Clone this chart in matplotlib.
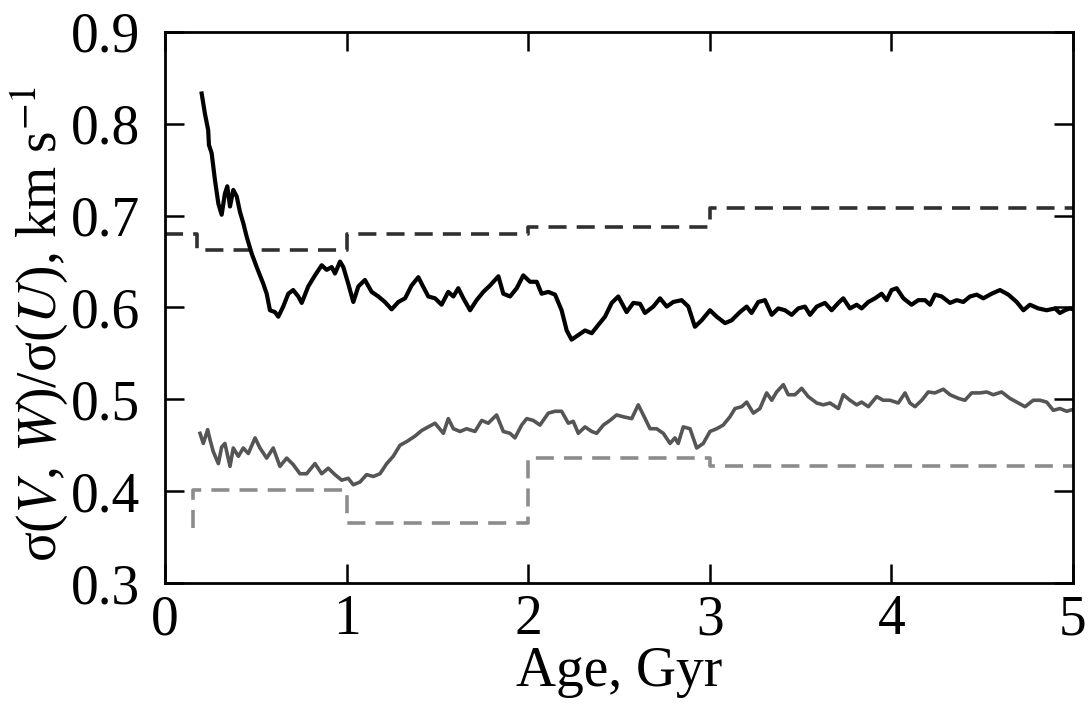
import matplotlib
matplotlib.use("Agg")
import matplotlib.pyplot as plt

# ---- data ----
# sigma(V)/sigma(U) running curve (black solid)
age_v = [0.202, 0.220, 0.238, 0.242, 0.257, 0.275, 0.294, 0.312, 0.330, 0.343, 0.358, 0.376,
         0.395, 0.413, 0.431, 0.450, 0.477, 0.505, 0.541, 0.560, 0.578, 0.606, 0.624, 0.651,
         0.679, 0.706, 0.734, 0.753, 0.789, 0.826, 0.863, 0.890, 0.918, 0.936, 0.964, 0.982,
         1.009, 1.037, 1.065, 1.101, 1.138, 1.175, 1.211, 1.248, 1.285, 1.322, 1.358, 1.395,
         1.413, 1.450, 1.487, 1.523, 1.560, 1.588, 1.615, 1.643, 1.680, 1.716, 1.753, 1.790,
         1.836, 1.863, 1.900, 1.937, 1.973, 2.010, 2.047, 2.074, 2.111, 2.148, 2.184, 2.212,
         2.239, 2.276, 2.313, 2.350, 2.386, 2.423, 2.460, 2.496, 2.542, 2.579, 2.616, 2.643,
         2.689, 2.726, 2.763, 2.799, 2.845, 2.882, 2.918, 2.955, 3.001, 3.038, 3.084, 3.120,
         3.166, 3.203, 3.230, 3.267, 3.304, 3.341, 3.377, 3.414, 3.451, 3.487, 3.524, 3.552,
         3.589, 3.634, 3.671, 3.708, 3.735, 3.772, 3.809, 3.836, 3.873, 3.910, 3.946, 3.974,
         4.001, 4.029, 4.066, 4.111, 4.148, 4.185, 4.213, 4.240, 4.277, 4.323, 4.360, 4.396,
         4.433, 4.470, 4.506, 4.552, 4.598, 4.644, 4.690, 4.727, 4.763, 4.809, 4.855, 4.901,
         4.928, 4.956, 4.983, 5.000]
ratio_v = [0.833, 0.811, 0.793, 0.777, 0.768, 0.739, 0.713, 0.701, 0.724, 0.732, 0.710, 0.728,
           0.721, 0.704, 0.692, 0.677, 0.659, 0.644, 0.626, 0.615, 0.597, 0.595, 0.590, 0.601,
           0.615, 0.619, 0.612, 0.605, 0.623, 0.635, 0.646, 0.641, 0.644, 0.637, 0.650, 0.644,
           0.626, 0.606, 0.623, 0.630, 0.617, 0.612, 0.606, 0.598, 0.606, 0.610, 0.624, 0.633,
           0.626, 0.612, 0.610, 0.603, 0.617, 0.612, 0.621, 0.610, 0.597, 0.608, 0.617, 0.624,
           0.634, 0.615, 0.612, 0.621, 0.635, 0.628, 0.628, 0.615, 0.617, 0.614, 0.597, 0.575,
           0.565, 0.570, 0.575, 0.572, 0.581, 0.590, 0.605, 0.612, 0.595, 0.605, 0.604, 0.594,
           0.601, 0.610, 0.601, 0.606, 0.608, 0.601, 0.579, 0.586, 0.597, 0.590, 0.583, 0.586,
           0.595, 0.601, 0.594, 0.606, 0.608, 0.592, 0.599, 0.597, 0.592, 0.599, 0.601, 0.592,
           0.601, 0.605, 0.597, 0.605, 0.610, 0.599, 0.603, 0.599, 0.606, 0.610, 0.615, 0.608,
           0.619, 0.621, 0.610, 0.603, 0.608, 0.608, 0.603, 0.614, 0.612, 0.605, 0.608, 0.606,
           0.612, 0.614, 0.610, 0.615, 0.619, 0.614, 0.606, 0.597, 0.603, 0.599, 0.597, 0.599,
           0.594, 0.597, 0.599, 0.598]

# sigma(W)/sigma(U) running curve (grey solid)
age_w = [0.193, 0.211, 0.235, 0.248, 0.266, 0.294, 0.312, 0.330, 0.358, 0.376, 0.404, 0.431,
         0.459, 0.496, 0.523, 0.560, 0.596, 0.633, 0.670, 0.706, 0.743, 0.780, 0.826, 0.863,
         0.899, 0.936, 0.973, 1.009, 1.037, 1.074, 1.110, 1.147, 1.184, 1.221, 1.257, 1.294,
         1.331, 1.377, 1.413, 1.450, 1.487, 1.533, 1.560, 1.588, 1.625, 1.661, 1.707, 1.744,
         1.780, 1.826, 1.863, 1.900, 1.927, 1.964, 1.992, 2.028, 2.065, 2.111, 2.148, 2.184,
         2.221, 2.248, 2.276, 2.313, 2.350, 2.377, 2.414, 2.450, 2.487, 2.524, 2.570, 2.606,
         2.634, 2.671, 2.707, 2.744, 2.781, 2.808, 2.826, 2.854, 2.891, 2.928, 2.964, 3.001,
         3.038, 3.074, 3.111, 3.139, 3.176, 3.203, 3.240, 3.276, 3.313, 3.341, 3.368, 3.405,
         3.432, 3.469, 3.506, 3.542, 3.589, 3.625, 3.662, 3.708, 3.735, 3.772, 3.809, 3.836,
         3.873, 3.919, 3.955, 3.992, 4.038, 4.075, 4.102, 4.130, 4.167, 4.203, 4.240, 4.286,
         4.323, 4.369, 4.405, 4.442, 4.488, 4.525, 4.561, 4.607, 4.653, 4.699, 4.736, 4.781,
         4.818, 4.855, 4.892, 4.928, 4.965, 5.000]
ratio_w = [0.463, 0.452, 0.467, 0.456, 0.443, 0.430, 0.448, 0.452, 0.427, 0.447, 0.438, 0.447,
           0.441, 0.458, 0.447, 0.436, 0.447, 0.427, 0.436, 0.429, 0.419, 0.419, 0.430, 0.419,
           0.425, 0.418, 0.412, 0.414, 0.407, 0.410, 0.418, 0.416, 0.419, 0.430, 0.438, 0.450,
           0.454, 0.460, 0.466, 0.470, 0.474, 0.463, 0.479, 0.468, 0.465, 0.468, 0.465, 0.477,
           0.474, 0.483, 0.465, 0.463, 0.458, 0.472, 0.479, 0.477, 0.472, 0.485, 0.487, 0.487,
           0.474, 0.476, 0.463, 0.470, 0.465, 0.463, 0.472, 0.477, 0.483, 0.481, 0.479, 0.494,
           0.483, 0.468, 0.468, 0.463, 0.452, 0.458, 0.452, 0.470, 0.468, 0.447, 0.452, 0.465,
           0.468, 0.472, 0.481, 0.490, 0.492, 0.497, 0.485, 0.490, 0.507, 0.499, 0.508, 0.516,
           0.505, 0.505, 0.512, 0.503, 0.496, 0.494, 0.496, 0.490, 0.505, 0.499, 0.494, 0.497,
           0.492, 0.503, 0.499, 0.499, 0.496, 0.507, 0.496, 0.492, 0.499, 0.508, 0.507, 0.511,
           0.505, 0.501, 0.499, 0.507, 0.507, 0.508, 0.505, 0.508, 0.501, 0.496, 0.492, 0.499,
           0.499, 0.497, 0.488, 0.490, 0.487, 0.489]

# binned values (dashed steps), post-step edges
bin_v_age = [0.0, 0.175, 1.0, 2.0, 3.0, 5.0]
bin_v_val = [0.680, 0.663, 0.680, 0.688, 0.708, 0.708]
bin_w_age = [0.155, 0.155, 1.0, 2.0, 3.0, 5.0]
bin_w_val = [0.360, 0.401, 0.365, 0.436, 0.427, 0.427]

plt.rcParams["font.family"] = ["Liberation Serif", "DejaVu Serif"]
plt.rcParams["mathtext.fontset"] = "stix"
FS = 40

fig = plt.figure(figsize=(10.89, 7.06), dpi=100)
ax = fig.add_axes([0.1515, 0.1742, 0.8338, 0.7805])

dash = (0, (5.0, 2.8))
ax.step(bin_v_age, bin_v_val, where="post", color="#303030", lw=2.6, ls=dash)
ax.step(bin_w_age, bin_w_val, where="post", color="#8c8c8c", lw=2.6, ls=dash)
ax.plot(age_w, ratio_w, color="#555555", lw=2.6)
ax.plot(age_v, ratio_v, color="black", lw=3.0)

ax.set_xlim(0, 5)
ax.set_ylim(0.3, 0.9)
ax.set_xticks(range(6))
ax.set_yticks([0.3, 0.4, 0.5, 0.6, 0.7, 0.8, 0.9])
ax.set_yticklabels(["0.3", "0.4", "0.5", "0.6", "0.7", "0.8", "0.9"])
ax.tick_params(direction="in", length=14, width=1.8, top=True, right=True,
               labelsize=FS)
ax.tick_params(axis="x", pad=8)
ax.tick_params(axis="y", pad=18)
for s in ax.spines.values():
    s.set_linewidth(2.0)

ax.set_xlabel("Age, Gyr", fontsize=FS, labelpad=0)
ax.set_ylabel("σ($V$, $W$)/σ($U$), km s$^{-1}$", fontsize=FS)
ax.yaxis.set_label_coords(-0.105, 0.47)

fig.savefig("out.png", dpi=100)
